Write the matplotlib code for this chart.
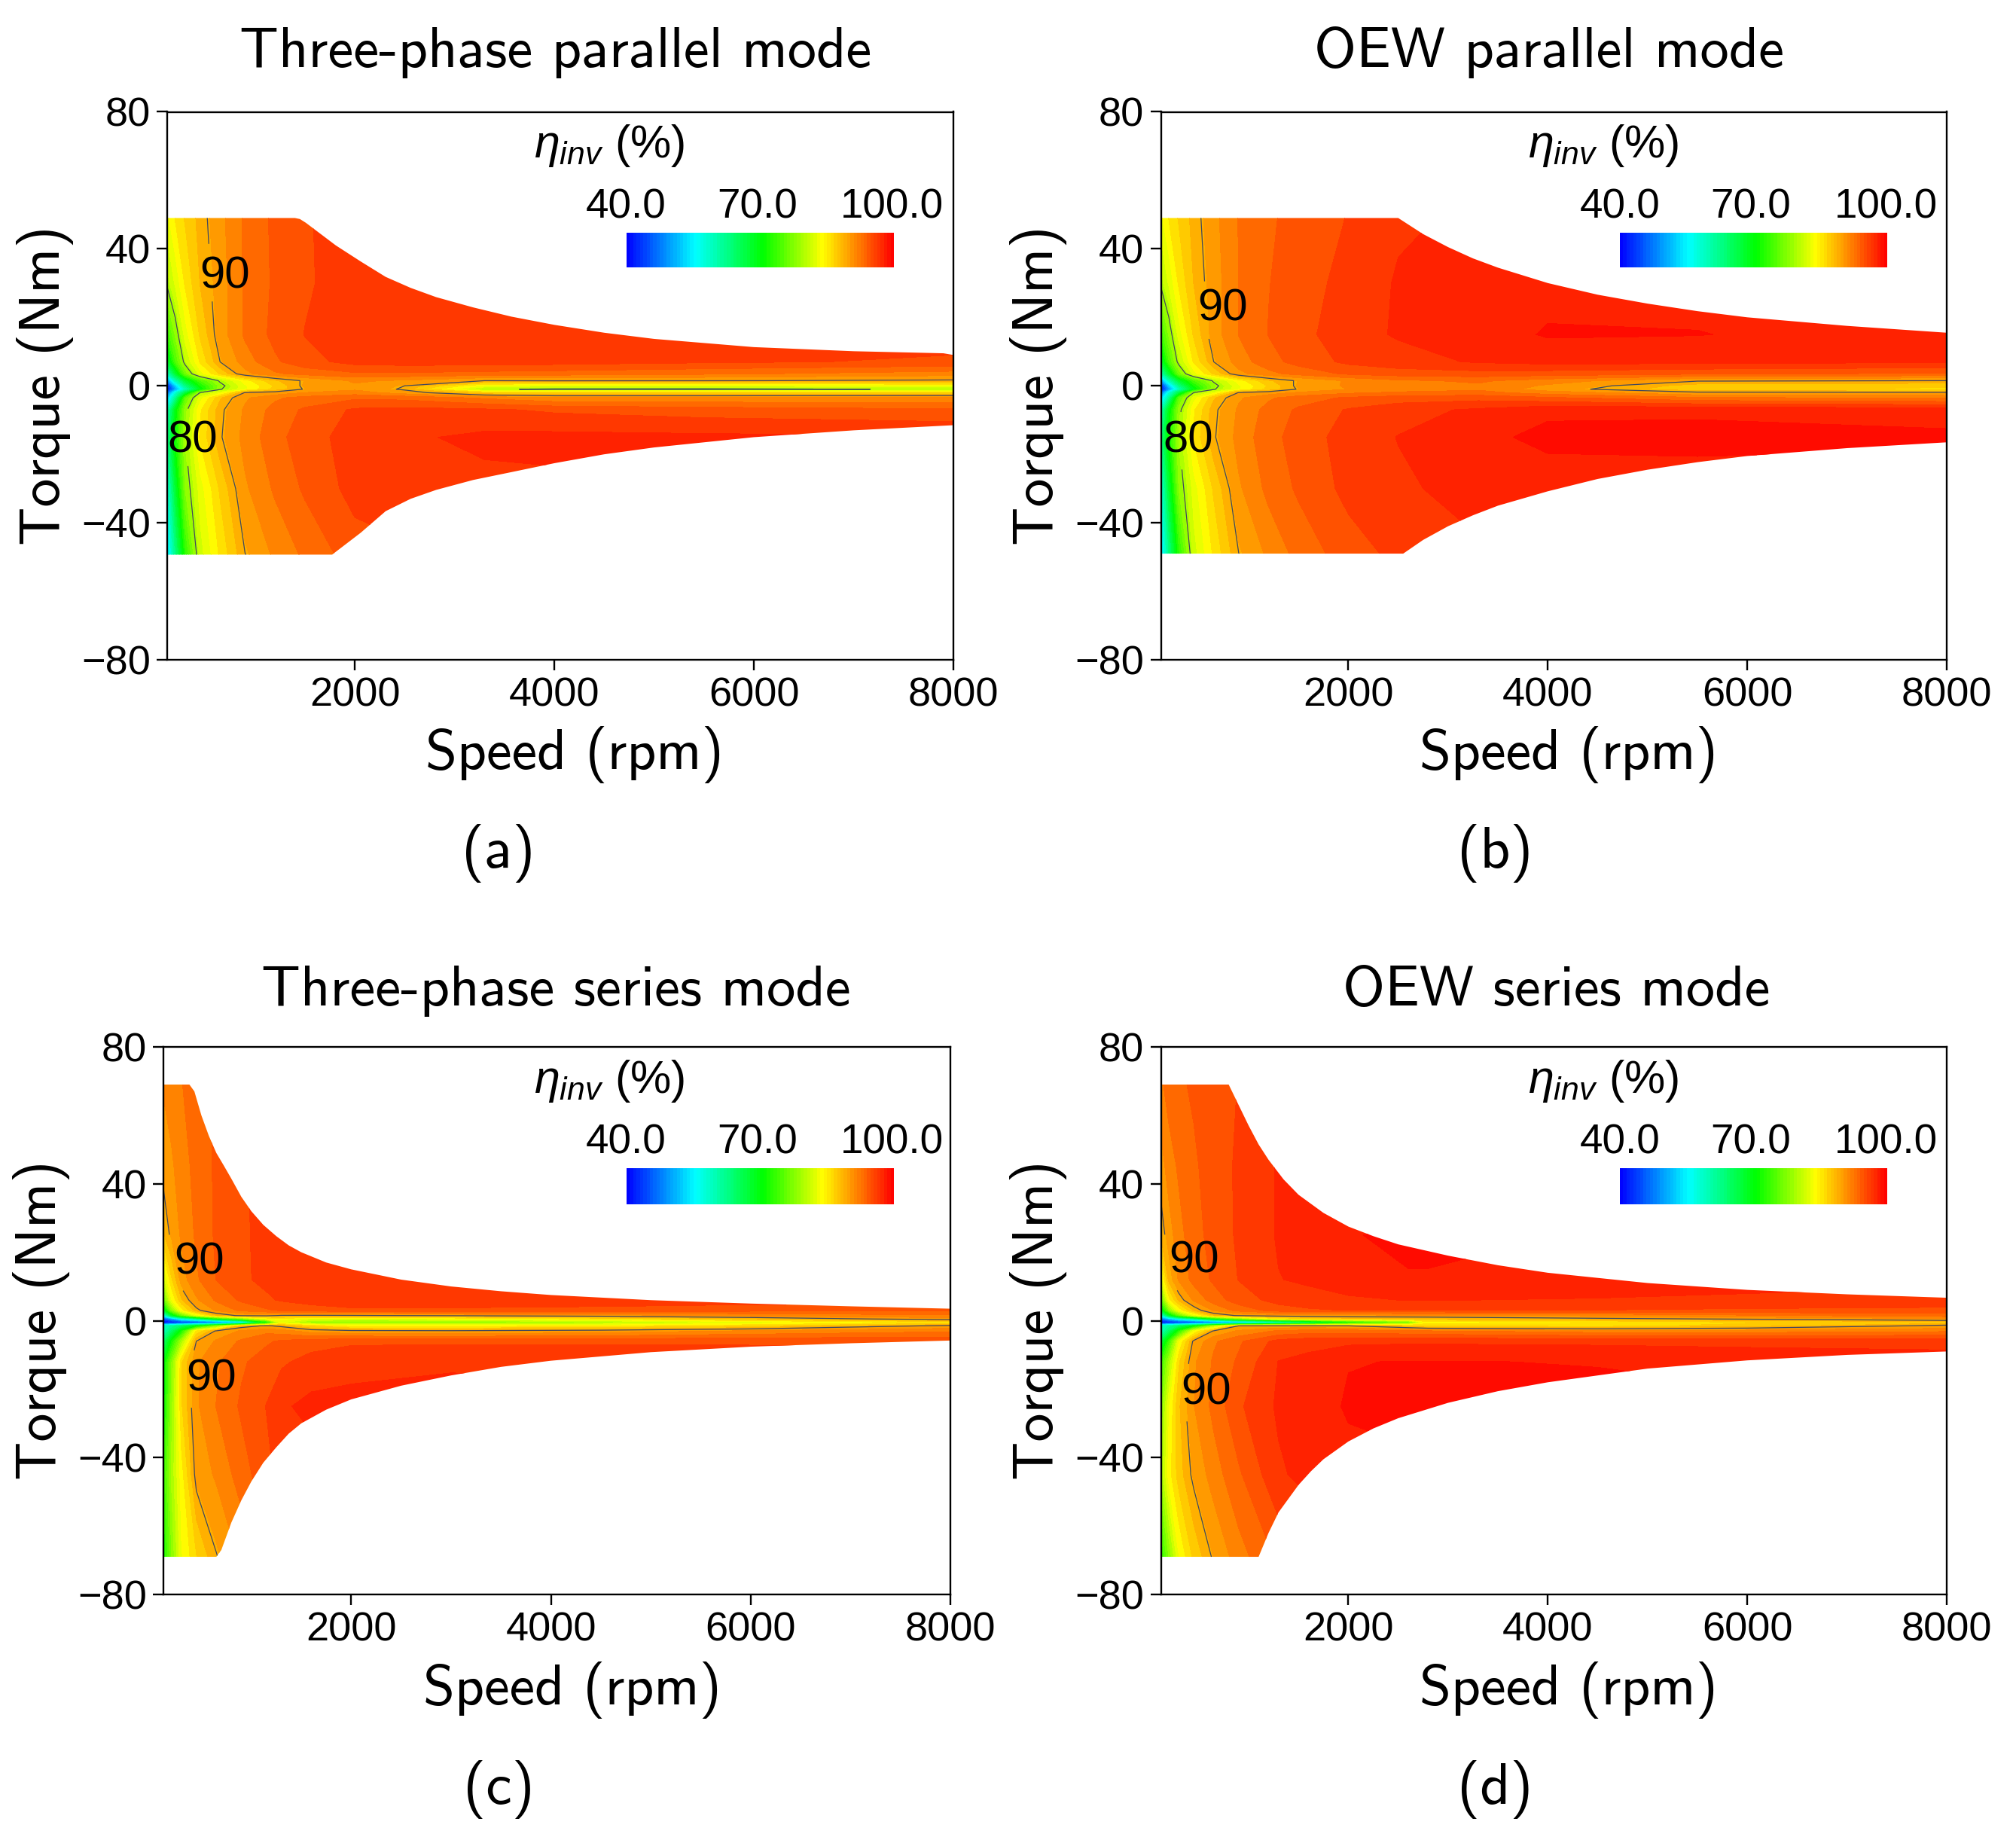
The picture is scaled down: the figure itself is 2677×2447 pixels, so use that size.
import numpy as np
import matplotlib
matplotlib.use("Agg")
import matplotlib.pyplot as plt
from matplotlib.colors import LinearSegmentedColormap
from matplotlib.patches import Polygon

plt.rcParams['font.family'] = ['Liberation Sans', 'DejaVu Sans']
plt.rcParams['mathtext.fontset'] = 'custom'
plt.rcParams['mathtext.rm'] = 'Liberation Sans'
plt.rcParams['mathtext.it'] = 'Liberation Sans:italic'
plt.rcParams['axes.unicode_minus'] = True

W, H = 2677, 2447

# ---------- values ----------
titles = ["Three-phase parallel mode", "OEW parallel mode", "Three-phase series mode", "OEW series mode"]
tags = ["(a)", "(b)", "(c)", "(d)"]
cbar_ticks = ["40.0", "70.0", "100.0"]
x_ticks = [2000, 4000, 6000, 8000]
y_ticks = [-80, -40, 0, 40, 80]

speed_par = [120, 200, 300, 450, 650, 900, 1200, 1500, 2000, 2500, 3300, 4000, 5500, 8000]
torque_par = [-50, -30, -15, -7, -3.5, -2, -1, 0, 1.5, 3.5, 7, 15, 30, 50]
speed_c = [120, 200, 300, 450, 650, 900, 1150, 1300, 1600, 2000, 3000, 4500, 6000, 8000]
speed_d = [120, 200, 300, 450, 650, 900, 1300, 1600, 2000, 2600, 2800, 4500, 6000, 8000]
torque_ser = [-70, -45, -25, -12, -6, -3, -1.5, -0.5, 0.5, 1.5, 3, 6, 12, 25, 45, 70]

eta_a = [
 [54, 63, 73, 82, 86, 89.9, 92, 93.5, 95.5, 96, 96.5, 96.5, 96.5, 96.5],
 [58, 68, 78.3, 83.5, 87.5, 91.5, 93.5, 95, 96.8, 97, 97.3, 97.4, 97.4, 97.4],
 [63, 72, 80, 86, 89.8, 92.3, 94.2, 95.6, 96.9, 97.5, 98.1, 98.2, 98.1, 97.9],
 [60, 70, 79, 85.5, 89.6, 92, 93.8, 95, 96.5, 96.7, 96.5, 96, 95.5, 95],
 [53, 62, 76, 83.5, 88.5, 91.5, 93, 93.8, 94.5, 94.3, 93, 92, 92, 92],
 [47, 58, 67, 80.2, 83.5, 90.2, 90.8, 91.8, 92.5, 91, 87.5, 87, 87, 87.5],
 [42, 50, 60, 70, 79.7, 84, 87.8, 90.2, 91.5, 89.7, 80.3, 79.7, 79.6, 80.2],
 [42, 53, 63, 72, 79, 84, 87.5, 90.5, 91.5, 90, 84, 83, 83, 84],
 [50, 60, 68, 75, 80.5, 85, 88.5, 90.3, 92, 91.5, 90, 90.2, 90.1, 89.7],
 [60, 68, 77, 83.5, 87.5, 91.3, 93, 93.8, 94.5, 94.5, 94.2, 94, 93.5, 92.5],
 [68, 75, 81, 86, 90, 92.5, 94.5, 95.7, 96.8, 97, 97, 96.9, 96.5, 96],
 [74, 78.5, 83.5, 87.5, 91, 93.5, 95.2, 96.3, 97.2, 97.5, 97.6, 97.5, 97.2, 97],
 [80.5, 83, 86, 88.8, 91, 93.5, 95, 96, 97.2, 97.5, 97.5, 97.5, 97.5, 97.5],
 [84, 86, 87.5, 89.3, 91.3, 93.5, 95.1, 96.1, 97, 97.2, 97.2, 97.2, 97.2, 97.2],
]
eta_b = [
 [54, 63, 73, 82, 86, 89.9, 92, 93.7, 95.5, 96.6, 97.5, 97.6, 97.6, 97.6],
 [58, 68, 78.3, 83.5, 87.5, 91.5, 93.7, 95, 96.7, 97.5, 98.3, 98.5, 98.5, 98.5],
 [63, 72, 80, 86, 89.8, 92.3, 94.2, 95.4, 96.9, 97.8, 98.9, 99.6, 99.7, 99.5],
 [60, 70, 79, 85.5, 89.6, 92, 93.8, 95, 96.4, 97.2, 98, 99, 99, 98.7],
 [53, 62, 76, 83.5, 88.5, 91.5, 93, 94, 95, 95.5, 95.7, 95, 93.5, 93],
 [47, 58, 67, 80.2, 83.5, 90.2, 91, 92, 93, 93.5, 93.8, 92.5, 90.5, 90.3],
 [42, 50, 60, 70, 79.7, 84, 87.8, 90.2, 91.8, 92.5, 93, 91, 87.5, 87],
 [42, 53, 63, 72, 79, 84, 87.5, 90.5, 92, 92.5, 93, 91.5, 88, 87.5],
 [50, 60, 68, 75, 80.5, 85, 88.5, 90.3, 92, 93, 93.5, 92.5, 90.2, 90],
 [60, 68, 77, 83.5, 87.5, 91.3, 92.8, 93.8, 95, 95.5, 95.7, 95.5, 95, 94.5],
 [68, 75, 81, 86, 90, 92.5, 94.2, 95.3, 96.6, 97.2, 97.9, 98.3, 98.2, 98],
 [74, 78.5, 83.5, 87.5, 91, 93.3, 94.8, 95.7, 97.2, 97.9, 98.5, 99.4, 99.3, 98.5],
 [80.5, 83, 86, 88.8, 91, 93.3, 94.7, 95.5, 96.8, 97.9, 98.3, 98.7, 98.7, 98.7],
 [84, 86, 87.5, 89.3, 91.3, 93.3, 94.5, 95.3, 96.3, 97.5, 98, 98, 98, 98],
]
eta_c = [
 [72, 78, 84, 87, 89.8, 92, 94, 95, 96, 96.5, 96.5, 96.5, 96.5, 96.5],
 [74, 80, 85, 90.7, 92, 94, 95.8, 96.8, 97, 97, 97, 97, 97, 97],
 [71, 79, 87, 91.5, 93.3, 95, 96.3, 97.5, 98.2, 98.3, 98.2, 98, 98, 98],
 [70, 78, 87, 91.5, 93, 94.5, 95.5, 96, 96.8, 97.2, 97.6, 97.6, 97.3, 97],
 [65, 72, 80, 90, 92, 93.5, 94.5, 95, 95.6, 96, 96, 96, 96, 96],
 [60, 65, 72, 86, 90.3, 92, 92.8, 92.5, 91, 90.5, 90.3, 90.8, 92, 93],
 [60, 62, 65, 70, 78, 89, 90.3, 89.5, 87, 85, 85, 85.5, 87, 90.5],
 [41, 42, 43, 44, 46, 52, 70, 83, 79, 78, 78, 80, 83, 86],
 [45, 50, 57, 62, 70, 77, 84, 85, 83, 83, 84, 86, 88.5, 91],
 [57, 68, 76, 83, 88.5, 90.5, 90.5, 89.8, 89.7, 89.8, 90.3, 91, 92, 93],
 [68, 78, 85, 89.5, 92, 93.6, 94.5, 95, 95.6, 96, 96, 95.8, 95.3, 94.8],
 [76, 84, 88.5, 91.5, 93.5, 95, 96, 96.4, 96.8, 97, 97, 97, 97, 97],
 [82, 87, 91, 93, 94.8, 96, 96.6, 96.8, 97, 97.2, 97.2, 97, 97, 97],
 [88.5, 90.5, 92, 93.5, 95, 96, 96.7, 97, 97, 97, 97, 97, 97, 97],
 [90.7, 91.5, 92.5, 93.8, 95, 96, 96.8, 97, 97, 97, 97, 97, 97, 97],
 [92, 92.5, 93.2, 94, 95, 96, 97, 97, 97, 97, 97, 97, 97, 97],
]
eta_d = [
 [73, 78, 84, 87.5, 90.2, 92.5, 95, 96, 97, 97.5, 97.5, 97.5, 97.5, 97.5],
 [80, 85, 88, 90.5, 92.5, 94.5, 97.5, 98.3, 98.8, 99, 99, 99, 99, 99],
 [78, 84, 88.5, 91.7, 93.7, 96, 98, 98.6, 99.4, 99.6, 99.6, 99.6, 99.6, 99.6],
 [74, 80, 87, 91.5, 93.5, 95, 97.8, 98.2, 99.2, 99.3, 99.3, 99.2, 98.8, 98.5],
 [67, 74, 84, 90.5, 93, 94.5, 96.8, 97.2, 97.4, 97.5, 97.5, 97.4, 97.3, 97.2],
 [60, 65, 73, 84, 90.3, 92, 93.5, 94, 94, 93.6, 93.4, 92.5, 92.5, 93],
 [60, 62, 65, 70, 80, 90, 90.5, 90.5, 90, 88, 87, 86.5, 88, 90.5],
 [41, 42, 43, 44, 46, 50, 56, 62, 70, 76, 85, 85.5, 87, 88],
 [47, 52, 57, 62, 70, 77, 85, 87, 88, 88.3, 88.5, 89.5, 90.2, 91.5],
 [57, 68, 76, 83, 88.5, 90.3, 91, 91, 91.2, 91.3, 91.3, 92, 93, 94],
 [68, 78, 84.5, 88.8, 92, 93.8, 95.5, 96, 96.3, 96.3, 96.3, 96.2, 96, 95.8],
 [76, 85, 89, 92, 94, 95.5, 96.8, 97.2, 97.5, 97.8, 97.8, 97.6, 97.4, 97.3],
 [83, 89.3, 92, 93.8, 95, 96.3, 97.7, 98, 98.6, 99.2, 99.2, 99.1, 98.5, 98],
 [89, 91, 92.7, 94.2, 95.3, 96.5, 97.9, 98.5, 99.2, 99.4, 99.4, 99.2, 99, 99],
 [91, 92.5, 93.5, 94.5, 95.5, 96.5, 97.9, 98.3, 98.5, 98.5, 98.5, 98.5, 98.5, 98.5],
 [93, 94, 94.5, 95, 95.5, 96.3, 97.5, 97.8, 98, 98, 98, 98, 98, 98],
]

# envelopes: speed, upper torque and lower torque limit
up_a_s = [120, 1400, 1450, 1510, 1810, 2060, 2310, 2560, 2815, 3186, 3570, 4000, 4500, 5000, 6000, 7000, 7900, 8000]
up_a_t = [49, 49, 48.7, 47.6, 41, 36.3, 31.8, 28.6, 25.9, 22.9, 20.2, 17.8, 15.5, 13.7, 11.3, 10.1, 9.5, 9]
lo_a_s = [120, 1773, 2060, 2310, 2560, 2815, 3186, 3570, 4000, 4500, 5000, 6000, 7000, 8000]
lo_a_t = [-49.3, -49.3, -42.9, -36.6, -33, -30.4, -27.5, -25.2, -22.6, -20, -18, -15, -13, -11.5]
up_b_s = [120, 2500, 2750, 3000, 3250, 3500, 4000, 4500, 5000, 5500, 6000, 7000, 8000]
up_b_t = [49, 49, 44.3, 40.5, 37.2, 34.5, 30, 26.6, 24, 21.8, 20, 17.5, 15.5]
lo_b_s = [120, 2550, 2750, 3000, 3250, 3500, 4000, 4500, 5000, 5500, 6000, 7000, 8000]
lo_b_t = [-49, -49, -45, -41, -37.8, -35, -30.8, -27.2, -24.5, -22.3, -20.5, -18.2, -16.5]
up_c_s = [120, 380, 430, 500, 575, 650, 725, 800, 900, 1000, 1120, 1250, 1375, 1500, 1750, 2000, 2500, 3000, 3500, 4000, 5000, 6000, 7000, 8000]
up_c_t = [69, 69, 67, 60, 54, 49, 45.3, 41.5, 36.2, 32, 28, 24.7, 22, 20, 17, 15, 12, 10, 8.6, 7.5, 6, 5, 4.2, 3.5]
lo_c_s = [120, 650, 700, 750, 800, 900, 1000, 1120, 1250, 1375, 1500, 1750, 2000, 2500, 3000, 3500, 4000, 5000, 6000, 7000, 8000]
lo_c_t = [-69, -69, -67, -63, -59, -52.5, -47, -41.5, -37, -33, -30, -26, -23, -19, -16, -13.5, -11.7, -9.2, -7.6, -6.6, -5.8]
up_d_s = [120, 800, 900, 1000, 1100, 1200, 1350, 1500, 1750, 2000, 2250, 2500, 3000, 3500, 4000, 5000, 6000, 7000, 8000]
up_d_t = [69, 69, 63, 57, 51.5, 47, 41.3, 36.8, 31.5, 27.5, 24.7, 22.3, 19, 16.2, 14, 11, 9, 7.7, 6.7]
lo_d_s = [120, 1100, 1200, 1300, 1400, 1500, 1625, 1750, 2000, 2250, 2500, 3000, 3500, 4000, 5000, 6000, 7000, 8000]
lo_d_t = [-69, -69, -62, -56, -52, -48, -44, -40.5, -35.3, -31.5, -28.5, -24, -20.6, -18, -14, -11.6, -10, -9]

# contour levels drawn in each panel
line_levels = [[80, 90], [80, 90], [90], [90]]
# contour label text anchors and the points of the line they interrupt
label_pos = {0: [(700, 32, 530, 33), (378, -16, 320, -15)],
             1: [(740, 22.5, 530, 22), (390, -16, 320, -16)],
             2: [(480, 17, 265, 17), (600, -17, 370, -17)],
             3: [(455, 17.5, 250, 17), (575, -21, 360, -21)]}

# ---------- layout (pixels of the 2677x2447 picture) ----------
boxes = [(222, 1266, 148.5, 876), (1541.5, 2585, 148.5, 876),
         (217, 1262, 1390, 2117), (1541.5, 2585, 1390, 2117)]
title_xy = [(738, 70), (2057, 70), (738, 1316), (2067, 1316)]
xlabel_xy = [(763, 1002), (2083, 1002), (760, 2244), (2083, 2244)]
ylabel_xy = [(60, 512), (1379, 512), (55, 1753), (1379, 1753)]
tag_xy = [(662, 1133), (1985, 1133), (662, 2376), (1985, 2376)]
cbar_box = [(831.5, 1186, 309, 355), (2151, 2506, 309, 355),
            (831.5, 1186, 1551, 1599), (2151, 2506, 1551, 1599)]
FS_T, FS_L, FS_TAG, FS_TICK, FS_CB, FS_ETA, FS_CL = 55, 54.5, 56, 39, 39.5, 44, 43

cmap = LinearSegmentedColormap.from_list(
    "eff", [(0, "#0000ff"), (0.257, "#00ffff"), (0.511, "#00ff00"), (0.733, "#ffff00"), (1, "#ff0000")], N=256)
OFFSET = 0.75
levels = np.linspace(40, 100, 41) + OFFSET
bar_edges = np.linspace(40, 100, 81)
bar_mids = 0.5 * (bar_edges[:-1] + bar_edges[1:])
LINE = "#3f4660"

fig = plt.figure(figsize=(W / 100, H / 100), dpi=100)


def fx(px):
    return px / W


def fy(py):
    return 1 - py / H


data = [(speed_par, torque_par, eta_a, up_a_s, up_a_t, lo_a_s, lo_a_t),
        (speed_par, torque_par, eta_b, up_b_s, up_b_t, lo_b_s, lo_b_t),
        (speed_c, torque_ser, eta_c, up_c_s, up_c_t, lo_c_s, lo_c_t),
        (speed_d, torque_ser, eta_d, up_d_s, up_d_t, lo_d_s, lo_d_t)]

for i, (S, T, E, us, ut, ls, lt) in enumerate(data):
    x0, x1, y0, y1 = boxes[i]
    ax = fig.add_axes([fx(x0), fy(y1), (x1 - x0) / W, (y1 - y0) / H])
    E = np.array(E, dtype=float)
    ax.set_xlim(120, 8000)
    ax.set_ylim(-80, 80)
    cf = ax.contourf(S, T, E, levels=levels, cmap=cmap, vmin=40 + OFFSET, vmax=100 + OFFSET)
    cl = ax.contour(S, T, E, levels=line_levels[i], colors=LINE, linewidths=0.9)
    verts = list(zip(us, ut)) + list(zip(ls[::-1], lt[::-1]))
    clip = Polygon(verts, closed=True, transform=ax.transData)
    cf.set_clip_path(clip)
    manual = [(p[2], p[3]) for p in label_pos[i]]
    ax.clabel(cl, levels=line_levels[i], manual=manual, inline=True, fontsize=FS_CL, fmt="%d", colors="black")
    cl.set_clip_path(clip)
    for t, p in zip(cl.labelTexts, label_pos[i]):
        t.set_rotation(0)
        t.set_position((p[0], p[1]))
        t.set_clip_on(False)
    ax.set_xlim(120, 8000)
    ax.set_ylim(-80, 80)
    ax.set_xticks(x_ticks)
    ax.set_yticks(y_ticks)
    ax.tick_params(length=10, width=1.7, labelsize=FS_TICK, pad=6)
    for s in ax.spines.values():
        s.set_linewidth(1.7)

    fig.text(fx(title_xy[i][0]), fy(title_xy[i][1]), titles[i], family="cmss10", fontsize=FS_T, ha="center", va="center")
    fig.text(fx(xlabel_xy[i][0]), fy(xlabel_xy[i][1]), "Speed (rpm)", family="cmss10", fontsize=FS_L, ha="center", va="center")
    fig.text(fx(ylabel_xy[i][0]), fy(ylabel_xy[i][1]), "Torque (Nm)", family="cmss10", fontsize=FS_L, rotation=90, ha="center", va="center")
    fig.text(fx(tag_xy[i][0]), fy(tag_xy[i][1]), tags[i], family="cmss10", fontsize=FS_TAG, ha="center", va="center")

    cx0, cx1, cy0, cy1 = cbar_box[i]
    cax = fig.add_axes([fx(cx0), fy(cy1), (cx1 - cx0) / W, (cy1 - cy0) / H])
    cax.imshow(bar_mids[None, :], aspect="auto", cmap=cmap, vmin=40, vmax=100, interpolation="nearest")
    cax.axis("off")
    for frac, s in zip((0, 0.49, 0.995), cbar_ticks):
        fig.text(fx(cx0 + frac * (cx1 - cx0)), fy(cy0 - 33), s, fontsize=FS_CB, ha="center", va="center")
    fig.text(fx(cx0 - 22), fy(cy0 - 116), r"$\eta_{inv}$ (%)", fontsize=FS_ETA, ha="center", va="center")

fig.savefig("out.png", dpi=100, facecolor="white")
